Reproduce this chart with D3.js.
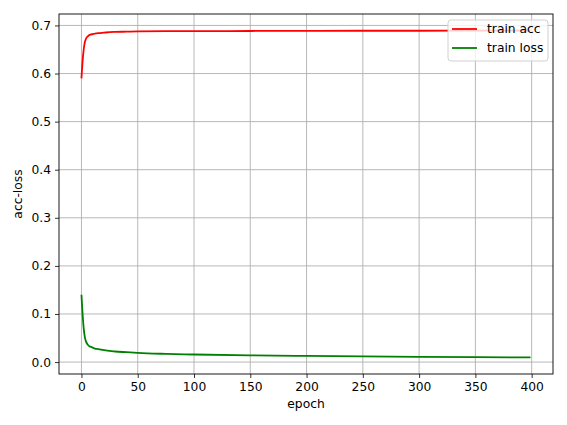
<!DOCTYPE html>
<html>
<head>
<meta charset="utf-8">
<script src="https://cdn.jsdelivr.net/npm/d3@7"></script>
<style>
  body { margin: 0; background: #fff; }
  svg { font-family: "DejaVu Sans", sans-serif; }
</style>
</head>
<body>
<div id="chart"></div>
<script>
var epochs   = [0, 1, 2, 3, 4, 5, 6, 7, 8, 10, 12, 15, 20, 25, 30, 40, 50, 75, 100, 150, 200, 250, 300, 350, 399]
var trainAcc = [0.590, 0.625, 0.650, 0.665, 0.672, 0.676, 0.678, 0.680, 0.681, 0.682, 0.683, 0.684, 0.685, 0.686, 0.6865, 0.687, 0.6875, 0.688, 0.688, 0.6885, 0.6888, 0.689, 0.689, 0.6893, 0.6895]
var trainLoss = [0.140, 0.100, 0.070, 0.052, 0.043, 0.038, 0.035, 0.033, 0.032, 0.030, 0.028, 0.027, 0.025, 0.0235, 0.022, 0.0205, 0.019, 0.017, 0.0158, 0.014, 0.0128, 0.0118, 0.011, 0.0103, 0.0097]
var xTicks = [0, 50, 100, 150, 200, 250, 300, 350, 400]
var yTicks = [0.0, 0.1, 0.2, 0.3, 0.4, 0.5, 0.6, 0.7]
var seriesNames  = ["train acc", "train loss"]
var seriesColors = ["#ff0000", "#008000"]

var width = 567, height = 425
var margin = { top: 14, right: 14, bottom: 51, left: 59 }

var svg = d3.select("#chart").append("svg")
  .attr("width", width)
  .attr("height", height)

var x = d3.scaleLinear()
  .domain([-19.95, 418.95])
  .range([margin.left, width - margin.right])

var y = d3.scaleLinear()
  .domain([-0.0248, 0.7238])
  .range([height - margin.bottom, margin.top])

// grid
svg.append("g")
  .selectAll("line")
  .data(xTicks)
  .enter().append("line")
    .attr("x1", d => x(d)).attr("x2", d => x(d))
    .attr("y1", margin.top).attr("y2", height - margin.bottom)
    .attr("stroke", "#b0b0b0").attr("stroke-width", 0.9)

svg.append("g")
  .selectAll("line")
  .data(yTicks)
  .enter().append("line")
    .attr("x1", margin.left).attr("x2", width - margin.right)
    .attr("y1", d => y(d)).attr("y2", d => y(d))
    .attr("stroke", "#b0b0b0").attr("stroke-width", 0.9)

// axes
var xAxis = svg.append("g")
  .attr("transform", `translate(0,${height - margin.bottom})`)
  .call(d3.axisBottom(x).tickValues(xTicks).tickSize(4).tickPadding(4).tickSizeOuter(0))

var yAxis = svg.append("g")
  .attr("transform", `translate(${margin.left},0)`)
  .call(d3.axisLeft(y).tickValues(yTicks).tickFormat(d3.format(".1f")).tickSize(4).tickPadding(4).tickSizeOuter(0))

svg.selectAll(".domain").remove()
svg.selectAll(".tick line").attr("stroke", "#000").attr("stroke-width", 0.8)
svg.selectAll(".tick text")
  .style("font-family", "DejaVu Sans, sans-serif")
  .style("font-size", "12.3px")
  .attr("fill", "#000")

// lines
var line = d3.line()
  .x(d => x(d[0]))
  .y(d => y(d[1]))
  .curve(d3.curveMonotoneX)

var series = [trainAcc, trainLoss]
series.forEach(function (vals, i) {
  svg.append("path")
    .datum(epochs.map((e, j) => [e, vals[j]]))
    .attr("fill", "none")
    .attr("stroke", seriesColors[i])
    .attr("stroke-width", 1.8)
    .attr("d", line)
})

// frame
svg.append("rect")
  .attr("x", margin.left)
  .attr("y", margin.top)
  .attr("width", width - margin.left - margin.right)
  .attr("height", height - margin.top - margin.bottom)
  .attr("fill", "none")
  .attr("stroke", "#000")
  .attr("stroke-width", 0.9)

// axis labels
svg.append("text")
  .attr("x", (margin.left + width - margin.right) / 2)
  .attr("y", 408)
  .attr("text-anchor", "middle")
  .style("font-size", "12.3px")
  .text("epoch")

svg.append("text")
  .attr("transform", `translate(22,${(margin.top + height - margin.bottom) / 2}) rotate(-90)`)
  .attr("text-anchor", "middle")
  .style("font-size", "12.3px")
  .text("acc-loss")

// legend
var legend = svg.append("g")
  .attr("transform", "translate(448,20)")

legend.append("rect")
  .attr("width", 100)
  .attr("height", 41)
  .attr("rx", 3)
  .attr("fill", "#fff")
  .attr("fill-opacity", 0.8)
  .attr("stroke", "#cccccc")
  .attr("stroke-width", 0.9)

var items = legend.selectAll(".lineLegend")
  .data(seriesNames)
  .enter().append("g")
    .attr("class", "lineLegend")
    .attr("transform", (d, i) => `translate(0,${9 + i * 19})`)

items.append("line")
  .attr("x1", 4).attr("x2", 29)
  .attr("stroke", (d, i) => seriesColors[i])
  .attr("stroke-width", 1.8)

items.append("text")
  .attr("x", 39)
  .attr("dy", "0.35em")
  .style("font-size", "12.3px")
  .text(d => d)
</script>
</body>
</html>
